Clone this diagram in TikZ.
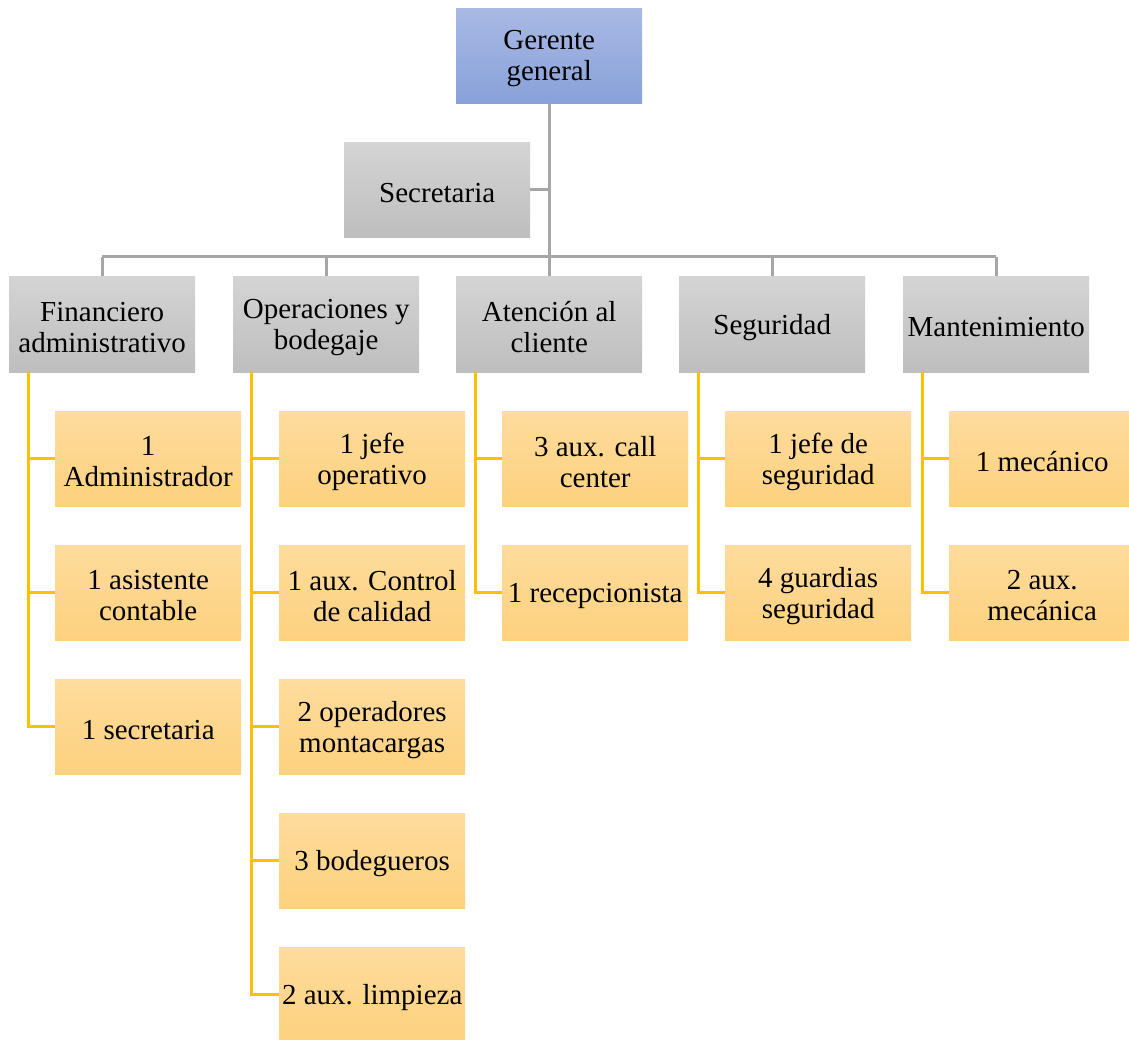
\documentclass[tikz,border=0pt]{standalone}
\usepackage{fontspec}
\setmainfont{Liberation Serif}
\definecolor{bluetop}{RGB}{169,185,228}
\definecolor{bluebot}{RGB}{136,161,217}
\definecolor{graytop}{RGB}{212,212,212}
\definecolor{graybot}{RGB}{190,190,190}
\definecolor{yeltop}{RGB}{254,220,157}
\definecolor{yelbot}{RGB}{253,209,126}
\definecolor{grayline}{RGB}{166,166,166}
\definecolor{yelline}{RGB}{255,192,0}
\tikzset{
  box/.style={anchor=north west, minimum width=186pt, minimum height=95pt, inner sep=0pt},
  lbl/.style={font=\fontsize{29}{31}\selectfont, align=center, inner sep=0pt, yshift=-3pt},
  bluebox/.style={box, top color=bluetop, bottom color=bluebot},
  graybox/.style={box, top color=graytop, bottom color=graybot},
  yelbox/.style={box, top color=yeltop, bottom color=yelbot},
  gl/.style={draw=grayline, line width=3pt},
  yl/.style={draw=yelline, line width=3pt},
}
\begin{document}
\begin{tikzpicture}[x=1pt,y=-1pt]
\useasboundingbox (0,0) rectangle (1129,1040);
\clip (0,0) rectangle (1129,1040);
% top
\node[bluebox, label={[lbl]center:{Gerente\\general}}] (gg) at (456,8) {};
\node[graybox, label={[lbl]center:{Secretaria}}] (sec) at (344,142) {};
\coordinate (bus) at (549,257);
% level 2
\node[graybox, minimum height=96pt, label={[lbl]center:{Financiero\\administrativo}}] (fa) at (9,276) {};
\node[graybox, minimum height=96pt, label={[lbl]center:{Operaciones y\\bodegaje}}] (ob) at (233,276) {};
\node[graybox, minimum height=96pt, label={[lbl]center:{Atención al\\cliente}}] (ac) at (456,276) {};
\node[graybox, minimum height=96pt, label={[lbl]center:{Seguridad}}] (se) at (679,276) {};
\node[graybox, minimum height=96pt, label={[lbl]center:{Mantenimiento}}] (ma) at (903,276) {};
% line x coordinates
\coordinate (fax) at (28,0);
\coordinate (obx) at (251,0);
\coordinate (acx) at (475,0);
\coordinate (sex) at (698,0);
\coordinate (max) at (922,0);
% children
\node[yelbox, label={[lbl]center:{1\\Administrador}}] (fa1) at (55,411) {};
\node[yelbox, label={[lbl]center:{1 asistente\\contable}}] (fa2) at (55,545) {};
\node[yelbox, label={[lbl]center:{1 secretaria}}] (fa3) at (55,679) {};
\node[yelbox, label={[lbl]center:{1 jefe\\operativo}}] (ob1) at (279,411) {};
\node[yelbox, label={[lbl]center:{1 aux. Control\\de calidad}}] (ob2) at (279,545) {};
\node[yelbox, label={[lbl]center:{2 operadores\\montacargas}}] (ob3) at (279,679) {};
\node[yelbox, label={[lbl]center:{3 bodegueros}}] (ob4) at (279,813) {};
\node[yelbox, label={[lbl]center:{2 aux. limpieza}}] (ob5) at (279,947) {};
\node[yelbox, label={[lbl]center:{3 aux. call\\center}}] (ac1) at (502,411) {};
\node[yelbox, label={[lbl]center:{1 recepcionista}}] (ac2) at (502,545) {};
\node[yelbox, label={[lbl]center:{1 jefe de\\seguridad}}] (se1) at (725,411) {};
\node[yelbox, label={[lbl]center:{4 guardias\\seguridad}}] (se2) at (725,545) {};
\node[yelbox, label={[lbl]center:{1 mecánico}}] (ma1) at (949,411) {};
\node[yelbox, label={[lbl]center:{2 aux.\\mecánica}}] (ma2) at (949,545) {};
% gray connectors
\draw[gl] (gg.south) -- (gg.south |- bus);
\draw[gl] (sec.east) -- (sec.east -| gg.south);
\draw[gl] (fa.north |- bus) -- (ma.north |- bus);
\foreach \n in {fa,ob,ac,se,ma}{
  \draw[gl] (\n.north |- bus) -- (\n.north);
}
% yellow connectors
\foreach \p/\c in {fa/fa1,fa/fa2,fa/fa3,ob/ob1,ob/ob2,ob/ob3,ob/ob4,ob/ob5,ac/ac1,ac/ac2,se/se1,se/se2,ma/ma1,ma/ma2}{
  \draw[yl] (\p.south -| \p x) |- (\c.west);
}
\end{tikzpicture}
\end{document}
